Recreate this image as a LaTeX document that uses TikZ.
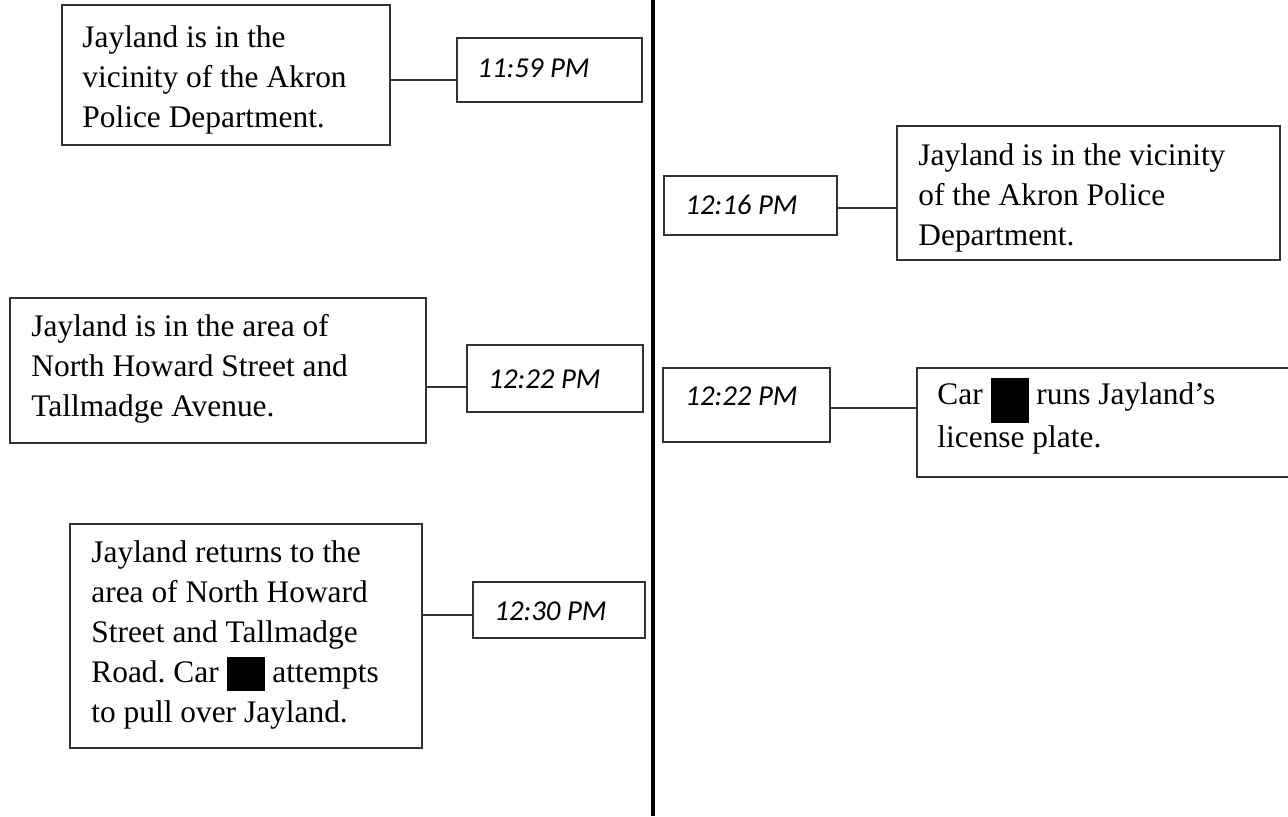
\documentclass[tikz,border=0pt]{standalone}
\usepackage{fontspec}
\setmainfont{Liberation Serif}
\newfontfamily\timefont{Carlito}
\usetikzlibrary{fit,calc}
\frenchspacing

\tikzset{
  evt/.style={draw=black!80, line width=0.6pt, inner sep=0pt},
  evttext/.style={anchor=base west, align=left, inner sep=0pt, font=\fontsize{15.7}{20}\selectfont},
  timetext/.style={anchor=base west, inner sep=0pt, font=\timefont\itshape\fontsize{14.4}{17}\selectfont},
  tie/.style={draw=black!80, line width=0.6pt}
}
\newcommand{\blackout}[2]{\rule[-#1]{19pt}{#2}}

\begin{document}
\begin{tikzpicture}[x=0.5pt, y=-0.5pt]
    \useasboundingbox (0,0) rectangle (1288,816);
    \coordinate (top) at (653,0);
    \coordinate (bottom) at (653,816);
    \draw[line width=2pt] (top) -- (bottom);

    \node[evt, fit={(62,5) (390,145)}] (a) {};
    \node[evttext] (a-txt) at (82,127) {Jayland is in the\\vicinity of the Akron\\Police Department.};
    \node[evt, fit={(457,38) (642,102)}] (t1) {};
    \node[timetext] (t1-txt) at (477,77) {11:59 PM};

    \node[evt, fit={(664,176) (837,235)}] (t2) {};
    \node[timetext] (t2-txt) at (685,214) {12:16 PM};
    \node[evt, fit={(897,126) (1280,260)}] (r1) {};
    \node[evttext] (r1-txt) at (918,245) {Jayland is in the vicinity\\of the Akron Police\\Department.};

    \node[evt, fit={(10,298) (426,443)}] (b) {};
    \node[evttext] (b-txt) at (31,416) {Jayland is in the area of\\North Howard Street and\\Tallmadge Avenue.};
    \node[evt, fit={(467,345) (643,412)}] (t3) {};
    \node[timetext] (t3-txt) at (488,388) {12:22 PM};

    \node[evt, fit={(663,368) (830,442)}] (t4) {};
    \node[timetext] (t4-txt) at (685,405) {12:22 PM};
    \node[evt, fit={(917,368) (1300,477)}] (r2) {};
    \node[evttext] (r2-txt) at (937,447) {Car \blackout{9.5pt}{22.5pt} runs Jayland's\\license plate.};

    \node[evt, fit={(70,524) (422,748)}] (c) {};
    \node[evttext] (c-txt) at (91,722) {Jayland returns to the\\area of North Howard\\Street and Tallmadge\\Road. Car \blackout{4.5pt}{17pt} attempts\\to pull over Jayland.};
    \node[evt, fit={(473,582) (645,638)}] (t5) {};
    \node[timetext] (t5-txt) at (494,620) {12:30 PM};

    \coordinate (j1) at ($(t1.west)+(0,10)$);
    \coordinate (j2) at ($(t2.east)+(0,2.5)$);
    \coordinate (j3) at ($(t3.west)+(0,8.5)$);
    \coordinate (j4) at ($(t4.east)+(0,3)$);
    \coordinate (j5) at ($(t5.west)+(0,5)$);
    \draw[tie] (j1 -| a.east) -- (j1);
    \draw[tie] (j2) -- (j2 -| r1.west);
    \draw[tie] (j3 -| b.east) -- (j3);
    \draw[tie] (j4) -- (j4 -| r2.west);
    \draw[tie] (j5 -| c.east) -- (j5);
\end{tikzpicture}
\end{document}
